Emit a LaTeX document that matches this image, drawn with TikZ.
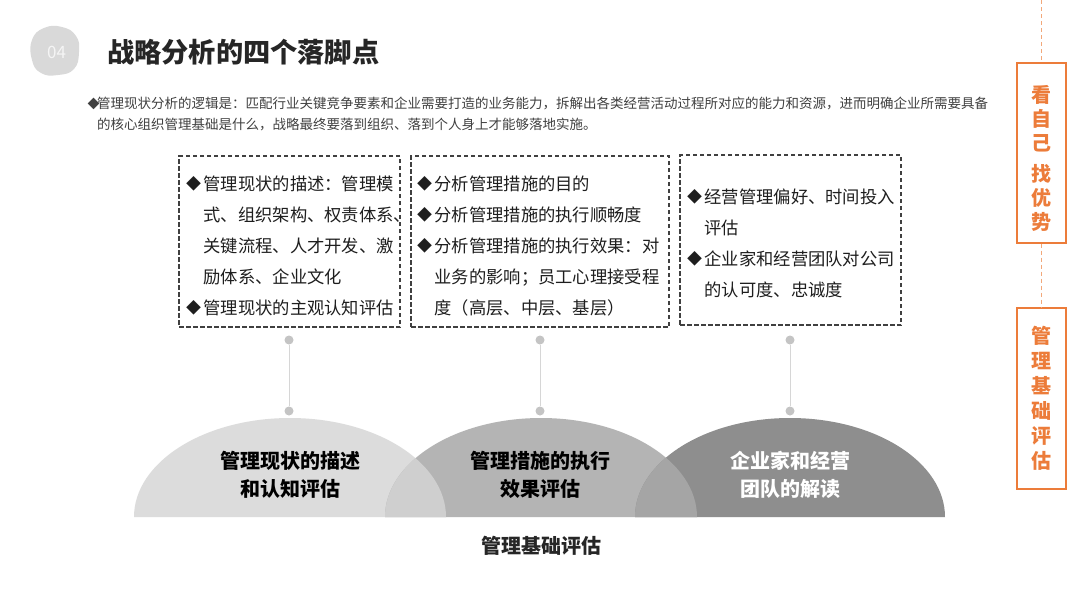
\documentclass[tikz,border=0pt]{standalone}
\usepackage{fontspec}
\setmainfont{Noto Sans CJK SC}
\usetikzlibrary{shapes.geometric}
\definecolor{orangeC}{HTML}{EC7C3A}
\definecolor{orangeL}{HTML}{F2A87A}
\definecolor{titleC}{HTML}{262626}
\definecolor{introC}{HTML}{404040}
\definecolor{boxC}{HTML}{404040}
\definecolor{txtC}{HTML}{1E1E1E}
\definecolor{arcA}{HTML}{DCDCDC}
\definecolor{arcB}{HTML}{B4B4B4}
\definecolor{arcC}{HTML}{8E8E8E}
\definecolor{ovAB}{HTML}{CFCFCF}
\definecolor{ovBC}{HTML}{A5A5A5}
\definecolor{dotC}{HTML}{C4C4C4}
\definecolor{lineC}{HTML}{D6D6D6}
\definecolor{blobC}{HTML}{D9D9D9}
\newcommand{\bul}{\makebox[17.3pt][l]{\raisebox{0.5pt}{\fontsize{15}{15}\selectfont◆}}}
\newcommand{\ind}{\hspace*{17.3pt}}
\begin{document}
\begin{tikzpicture}[x=1pt,y=-1pt,
  dbox/.style={draw=boxC,line width=1.2pt,dash pattern=on 4.5pt off 2.5pt,inner sep=0pt},
  btxt/.style={inner sep=0pt,anchor=north west,align=left,text=txtC,font=\fontsize{17.3}{31}\selectfont},
  arctxt/.style={inner sep=0pt,align=center,font=\bfseries\fontsize{20}{28}\selectfont},
  dotn/.style={circle,fill=dotC,minimum size=9pt,inner sep=0pt},
  obox/.style={draw=orangeC,line width=1.4pt,minimum width=49pt,inner sep=0pt},
  otxt/.style={text=orangeC,align=center,inner sep=0pt,font=\bfseries\fontsize{20}{24}\selectfont},
  olink/.style={draw=orangeL,line width=1pt,dash pattern=on 4pt off 3pt}]
\useasboundingbox (0,0) rectangle (1080,608);
\fill[white] (0,0) rectangle (1080,608);

% title blob
\fill[blobC] plot[smooth cycle,tension=0.8] coordinates {(32,40) (44,28) (62,27) (76,36) (79,52) (74,69) (58,75) (41,73) (32,60)};
\node[inner sep=0pt,text=white!92!gray,font=\fontsize{17}{17}\selectfont] (num) at (56.5,52) {04};
\node[inner sep=0pt,anchor=west,text=titleC,font=\bfseries\fontsize{27.2}{27.2}\selectfont] (title) at (107,52) {战略分析的四个落脚点};

% intro text
\node[inner sep=0pt,anchor=base west,text=introC,font=\fontsize{13.5}{21}\selectfont] (intro1) at (97,108)
  {\llap{\makebox[9.5pt][l]{\fontsize{12}{12}\selectfont◆}}管理现状分析的逻辑是：匹配行业关键竞争要素和企业需要打造的业务能力，拆解出各类经营活动过程所对应的能力和资源，进而明确企业所需要具备};
\node[inner sep=0pt,anchor=base west,text=introC,font=\fontsize{13.5}{21}\selectfont] (intro2) at (97,129)
  {的核心组织管理基础是什么，战略最终要落到组织、落到个人身上才能够落地实施。};

% dashed boxes
\node[dbox,minimum width=221pt,minimum height=171pt] (b1) at (289.5,241.5) {};
\node[dbox,minimum width=258pt,minimum height=171pt] (b2) at (540,241.5) {};
\node[dbox,minimum width=221pt,minimum height=170pt] (b3) at (790.5,240) {};

\node[btxt] (t1) at (186,175.5) {\bul 管理现状的描述：管理模\\
\ind 式、组织架构、权责体系、\\
\ind 关键流程、人才开发、激\\
\ind 励体系、企业文化\\
\bul 管理现状的主观认知评估};
\node[btxt] (t2) at (417,175.5) {\bul 分析管理措施的目的\\
\bul 分析管理措施的执行顺畅度\\
\bul 分析管理措施的执行效果：对\\
\ind 业务的影响；员工心理接受程\\
\ind 度（高层、中层、基层）};
\node[btxt] (t3) at (687,188.5) {\bul 经营管理偏好、时间投入\\
\ind 评估\\
\bul 企业家和经营团队对公司\\
\ind 的认可度、忠诚度};

% connectors with dots
\node[dotn] (d1a) at (289,340) {};
\node[dotn] (d1b) at (289,411) {};
\node[dotn] (d2a) at (540,340) {};
\node[dotn] (d2b) at (540,411) {};
\node[dotn] (d3a) at (790,340) {};
\node[dotn] (d3b) at (790,411) {};
\draw[lineC,line width=1pt] (d1a) -- (d1b);
\draw[lineC,line width=1pt] (d2a) -- (d2b);
\draw[lineC,line width=1pt] (d3a) -- (d3b);

% half ellipses
\fill[arcA] (134,517) arc[start angle=180,end angle=360,x radius=156,y radius=99] -- cycle;
\fill[arcB] (385,517) arc[start angle=180,end angle=360,x radius=156,y radius=99] -- cycle;
\fill[arcC] (635,517) arc[start angle=180,end angle=360,x radius=155,y radius=99] -- cycle;
\begin{scope}
\clip (134,517) arc[start angle=180,end angle=360,x radius=156,y radius=99] -- cycle;
\fill[ovAB] (385,517) arc[start angle=180,end angle=360,x radius=156,y radius=99] -- cycle;
\end{scope}
\begin{scope}
\clip (385,517) arc[start angle=180,end angle=360,x radius=156,y radius=99] -- cycle;
\fill[ovBC] (635,517) arc[start angle=180,end angle=360,x radius=155,y radius=99] -- cycle;
\end{scope}

\node[arctxt,text=black] (a1) at (290,475) {管理现状的描述\\和认知评估};
\node[arctxt,text=black] (a2) at (540,475) {管理措施的执行\\效果评估};
\node[arctxt,text=white] (a3) at (790,475) {企业家和经营\\团队的解读};

\node[inner sep=0pt,text=titleC,font=\bfseries\fontsize{20}{20}\selectfont] (foot) at (541,546) {管理基础评估};

% right side
\node[obox,minimum height=180pt] (o1) at (1041.5,153) {};
\node[otxt] (ot1) at (1041.5,158.5) {看\\自\\己\\[7pt]找\\优\\势};
\node[obox,minimum height=181pt,otxt] (o2) at (1041.5,398.5) {管\\[1pt]理\\[1pt]基\\[1pt]础\\[1pt]评\\[1pt]估};
\coordinate (otop) at (1041.5,0);
\draw[olink] (otop) -- (o1.north);
\draw[olink] (o1.south) -- (o2.north);
\end{tikzpicture}
\end{document}
